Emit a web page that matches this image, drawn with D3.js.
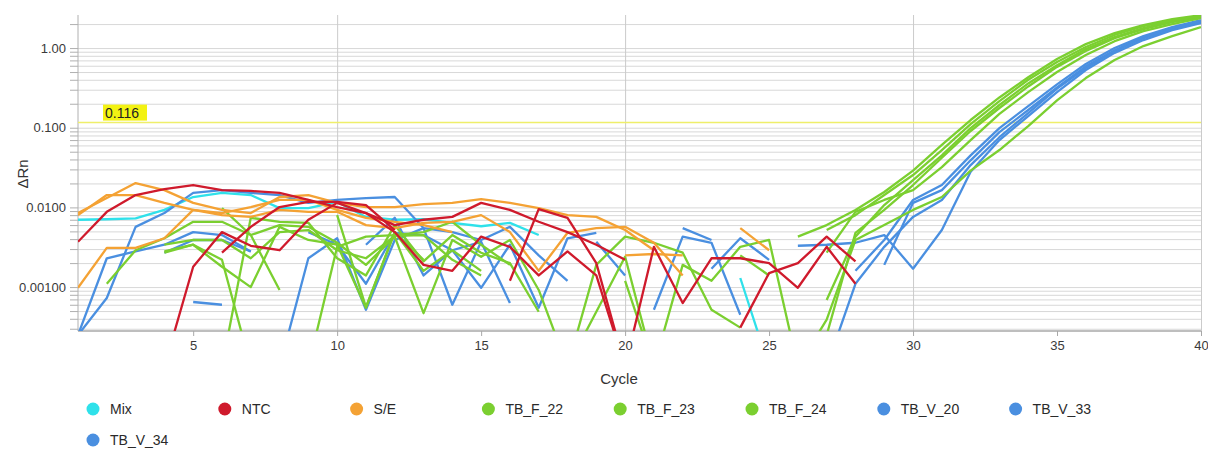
<!DOCTYPE html>
<html><head><meta charset="utf-8">
<script src="https://cdn.jsdelivr.net/npm/d3@7"></script>
<style>
body{margin:0;background:#fff;}
svg{display:block;font-family:"Liberation Sans",Arial,Helvetica,sans-serif;}
</style>
</head><body>
<svg id="chart" width="1208" height="451"></svg>
<script>
// ---------------- data ----------------
const cycles = d3.range(1, 41);
const sampleNames = ["Mix", "NTC", "S/E", "TB_F_22", "TB_F_23", "TB_F_24", "TB_V_20", "TB_V_33", "TB_V_34"];
const sampleColors = ["#2fe1ea", "#cf1a2c", "#f4a234", "#7bcf30", "#7bcf30", "#7bcf30", "#4a8fe0", "#4a8fe0", "#4a8fe0"];
const threshold = 0.116;
const xTickValues = [5, 10, 15, 20, 25, 30, 35, 40];
const xGridValues = [10, 20, 30, 40];
const yLabelValues = [0.001, 0.01, 0.1, 1];
const yLabelTexts = ["0.00100", "0.0100", "0.100", "1.00"];
const n = null;

// Mix
const mix_1 = [0.0070,0.0071,0.0073,0.0093,0.0135,0.0152,0.0143,0.0098,0.0098,0.0117,0.0076,0.0070,0.0071,0.0064,0.0058,0.0064,0.0045,n,n,n,n,n,n,0.0013,0.0001,n,n,n,n,n,n,n,n,n,n,n,n,n,n,n];
// NTC
const ntc_1 = [0.0037,0.0088,0.0143,0.0170,0.0191,0.0165,0.0161,0.0152,0.0124,0.0101,0.0085,0.0060,0.0070,0.0076,0.0114,0.0093,0.0066,0.0049,0.0034,0.0022,n,n,n,n,n,n,n,n,n,n,n,n,n,n,n,n,n,n,n,n];
const ntc_2 = [n,n,n,0.0001,0.0018,0.0049,0.0033,0.0029,0.0070,0.0114,0.0085,0.0049,0.0019,0.0016,0.0043,0.0032,0.0014,0.0028,0.0014,0.0001,0.0032,0.00063,0.0023,0.0023,0.0020,0.00098,0.0032,0.0011,n,n,n,n,n,n,n,n,n,n,n,n];
const ntc_3 = [n,n,n,n,n,0.0027,0.0057,0.0101,0.0117,0.0117,0.0107,0.0052,n,n,n,n,n,n,n,n,n,n,n,n,n,n,n,n,n,n,n,n,n,n,n,n,n,n,n,n];
const ntc_4 = [n,n,n,n,n,n,n,n,n,n,n,n,n,n,n,0.0012,0.0095,0.0074,0.0020,0.0001,n,n,n,0.00031,0.0015,0.0020,0.0043,0.0021,n,n,n,n,n,n,n,n,n,n,n,n];
// S/E
const se_1 = [0.0085,0.0131,0.0202,0.0165,0.0114,0.0093,0.0085,0.0135,0.0143,0.0114,0.0101,0.0101,0.0110,0.0114,0.0127,0.0114,0.0098,0.0080,0.0076,0.0052,0.0029,n,n,n,n,n,n,n,n,n,n,n,n,n,n,n,n,n,n,n];
const se_2 = [0.0080,0.0143,0.0143,0.0114,0.0093,0.0080,0.0076,0.0093,0.0088,0.0088,0.0060,0.0055,0.0064,0.0066,0.0080,0.0049,0.0016,0.0048,0.0055,0.0057,0.0036,0.0014,n,0.0055,0.0029,n,n,n,n,n,n,n,n,n,n,n,n,n,n,n];
const se_3 = [0.00098,0.0031,0.0031,0.0041,0.0093,0.0085,0.0101,0.0124,0.0124,0.0093,0.0074,0.0066,0.0060,0.0049,n,n,n,n,n,0.0025,0.0026,0.0025,n,n,n,n,n,n,n,n,n,n,n,n,n,n,n,n,n,n];
// TB_F
const tbf22_1 = [n,0.0011,0.0029,0.0041,0.0066,0.0066,0.0045,0.0060,0.0057,0.0036,0.0019,0.0043,0.00047,0.0039,0.0024,0.0039,0.00092,0.0001,0.0019,0.0043,0.0036,0.0027,0.00052,0.00031,n,0.0043,0.0060,0.0093,0.0156,0.029,0.061,0.125,0.24,0.43,0.73,1.12,1.54,1.94,2.31,2.59];
const tbf22_2 = [n,n,n,0.0028,0.0034,0.0018,0.0010,0.0057,0.0039,0.0034,0.00055,0.0049,0.0016,0.0029,0.0016,n,n,0.0001,0.00049,0.0024,0.0001,0.0019,0.0012,0.0032,0.0039,0.0001,0.00025,0.0048,0.0093,0.0191,0.042,0.091,0.177,0.33,0.58,0.92,1.33,1.73,2.12,2.45];
const tbf23_1 = [n,n,n,0.0027,0.0034,0.0022,0.0001,n,0.0001,0.0032,0.0043,0.0045,0.0049,0.0066,0.0034,0.0019,n,n,n,n,n,n,n,0.0025,0.0014,n,0.0027,0.0088,0.0124,0.0165,0.032,0.070,0.149,0.28,0.50,0.82,1.22,1.63,2.00,2.38];
const tbf23_2 = [n,n,n,n,n,0.0098,0.0045,0.00092,n,0.0080,0.00056,0.0049,0.0022,n,n,n,n,n,n,0.0012,0.0001,n,n,n,n,n,0.00069,0.0043,0.0107,0.022,0.045,0.099,0.193,0.36,0.61,0.97,1.37,1.78,2.18,2.52];
const tbf24_1 = [n,n,n,n,n,0.0001,0.0074,0.0066,0.0064,0.0023,0.0014,0.0060,0.0021,0.0045,0.0027,0.0020,0.00049,n,n,n,n,n,n,n,n,n,0.0052,0.0080,0.0143,0.0255,0.0525,0.111,0.216,0.40,0.67,1.03,1.46,1.89,2.24,2.52];
const tbf24_2 = [n,n,n,0.0034,0.0039,0.0039,0.0023,0.0049,0.0052,0.0029,0.0023,0.0044,0.0045,0.0022,0.0014,n,n,n,n,n,n,n,n,n,n,0.0001,0.00039,0.0039,0.0060,0.0093,0.0135,0.029,0.0525,0.105,0.22,0.42,0.71,1.06,1.41,1.83];
// TB_V
const tbv20_1 = [0.00025,0.00073,0.0057,0.0085,0.0152,0.0165,0.0152,0.0143,0.0114,0.0124,0.0131,0.0135,0.0055,0.0049,0.0039,0.0057,0.0025,0.0012,n,n,0.00052,0.0043,0.0036,0.00045,n,0.0033,0.0034,0.0036,0.0045,0.0017,0.0052,0.028,0.070,0.140,0.28,0.53,0.87,1.26,1.68,2.06];
const tbv20_2 = [0.00025,0.0023,0.0028,0.0034,0.0049,0.0045,0.0028,n,n,n,0.0034,0.0074,0.0014,0.0029,0.0037,n,n,n,0.0037,0.0014,n,n,0.0017,0.0041,0.0022,n,0.0001,0.0011,0.0032,0.0076,0.0124,0.034,0.076,0.153,0.31,0.56,0.92,1.33,1.73,2.12];
const tbv33_1 = [n,n,n,0.0027,0.0039,0.0039,0.0028,n,0.0049,0.0034,0.0011,0.0048,0.0045,0.0029,0.00098,0.0034,0.00055,0.0041,0.0048,n,n,0.0055,0.0039,n,n,n,n,n,0.0019,0.0114,0.0165,0.039,0.088,0.167,0.32,0.59,0.94,1.37,1.78,2.18];
const tbv34_1 = [n,n,n,n,0.00065,0.00060,n,0.0001,0.0023,0.0041,0.00052,0.0039,0.0055,0.00060,0.0037,0.00063,n,n,n,n,n,n,n,n,n,n,n,0.0016,0.0039,0.0124,0.0191,0.045,0.099,0.187,0.35,0.63,1.00,1.41,1.83,2.24];

const wells = [
  {sample: "Mix", values: mix_1},
  {sample: "TB_V_20", values: tbv20_1},
  {sample: "TB_V_20", values: tbv20_2},
  {sample: "TB_V_33", values: tbv33_1},
  {sample: "TB_V_34", values: tbv34_1},
  {sample: "TB_F_22", values: tbf22_1},
  {sample: "TB_F_22", values: tbf22_2},
  {sample: "TB_F_23", values: tbf23_1},
  {sample: "TB_F_23", values: tbf23_2},
  {sample: "TB_F_24", values: tbf24_1},
  {sample: "TB_F_24", values: tbf24_2},
  {sample: "S/E", values: se_1},
  {sample: "S/E", values: se_2},
  {sample: "S/E", values: se_3},
  {sample: "NTC", values: ntc_1},
  {sample: "NTC", values: ntc_2},
  {sample: "NTC", values: ntc_3},
  {sample: "NTC", values: ntc_4}
];

// ---------------- drawing ----------------
const svg = d3.select("#chart");
const L = 78, R = 1201, T = 15, B = 331;
const x = d3.scaleLinear().domain([1, 40]).range([L, R]);
const y = d3.scaleLog().domain([0.000281, 2.6]).range([B, T]);
const color = d3.scaleOrdinal().domain(sampleNames).range(sampleColors);

// all log tick values (1..9 per decade) inside the domain
const logTicks = [];
for (let e = -4; e <= 0; e++) for (let m = 1; m <= 9; m++) {
  const v = +(m * Math.pow(10, e)).toPrecision(3);
  if (v >= y.domain()[0] && v <= y.domain()[1]) logTicks.push(v);
}

// horizontal grid
svg.append("g").attr("transform", `translate(${L},0)`)
  .call(d3.axisLeft(y).tickValues(logTicks).tickSize(-(R - L)).tickFormat(""))
  .call(g => g.select(".domain").remove())
  .call(g => g.selectAll("line").attr("stroke", "#d8d8d8").attr("stroke-width", 1));

// vertical grid
svg.append("g").attr("transform", `translate(0,${B})`)
  .call(d3.axisBottom(x).tickValues(xGridValues).tickSize(-(B - T)).tickFormat(""))
  .call(g => g.select(".domain").remove())
  .call(g => g.selectAll("line").attr("stroke", "#cbcbcb").attr("stroke-width", 1));

// left axis with ticks and labels
const labelMap = new Map(yLabelValues.map((v, i) => [v, yLabelTexts[i]]));
svg.append("g").attr("transform", `translate(${L},0)`)
  .call(d3.axisLeft(y).tickValues(logTicks).tickSize(8).tickPadding(4)
    .tickFormat(v => labelMap.has(v) ? labelMap.get(v) : ""))
  .call(g => g.select(".domain").attr("stroke", "#b0b0b0").attr("d", `M0,${T}V${B}`))
  .call(g => g.selectAll("line").attr("stroke", "#b0b0b0"))
  .call(g => g.selectAll("text").attr("font-size", 13).attr("fill", "#3a3a3a")
    .attr("font-family", "Liberation Sans, Arial, sans-serif"));

// bottom axis
svg.append("g").attr("transform", `translate(0,${B})`)
  .call(d3.axisBottom(x).tickValues(xTickValues).tickSize(5).tickPadding(5).tickFormat(d3.format("d")))
  .call(g => g.select(".domain").attr("stroke", "#a8a8a8").attr("stroke-width", 1.5).attr("d", `M${L},0H${R}`))
  .call(g => g.selectAll("line").attr("stroke", "#a8a8a8"))
  .call(g => g.selectAll("text").attr("font-size", 13).attr("fill", "#3a3a3a")
    .attr("font-family", "Liberation Sans, Arial, sans-serif"));

// clip
svg.append("defs").append("clipPath").attr("id", "plotclip")
  .append("rect").attr("x", L).attr("y", T).attr("width", R - L).attr("height", B - T);

// threshold line
svg.append("line").attr("x1", L).attr("x2", R).attr("y1", y(threshold)).attr("y2", y(threshold))
  .attr("stroke", "#efef6a").attr("stroke-width", 1.5);
const thLabel = svg.append("g");
thLabel.append("rect").attr("x", 103).attr("y", y(threshold) - 18).attr("width", 44).attr("height", 16)
  .attr("fill", "#f3f213");
thLabel.append("text").attr("x", 105).attr("y", y(threshold) - 5).attr("font-size", 14)
  .attr("fill", "#222").text("0.116");

// curves
const line = d3.line()
  .defined(d => d.v !== null)
  .x(d => x(d.c))
  .y(d => y(d.v));

svg.append("g").attr("clip-path", "url(#plotclip)")
  .selectAll("path").data(wells).join("path")
  .attr("fill", "none")
  .attr("stroke", d => color(d.sample))
  .attr("stroke-width", 2.3)
  .attr("stroke-linejoin", "round")
  .attr("d", d => line(d.values.map((v, i) => ({c: cycles[i], v}))));

// axis titles
svg.append("text").attr("x", 619).attr("y", 384).attr("text-anchor", "middle")
  .attr("font-size", 15).attr("fill", "#333").text("Cycle");
svg.append("text").attr("transform", "translate(28,174) rotate(-90)").attr("text-anchor", "middle")
  .attr("font-size", 15).attr("fill", "#333").text("ΔRn");

// legend
const lg = svg.append("g").selectAll("g").data(sampleNames).join("g")
  .attr("transform", (d, i) => i < 8 ? `translate(${93 + i * 131.8},409)` : `translate(93,440)`);
lg.append("circle").attr("r", 6.5).attr("fill", d => color(d));
lg.append("text").attr("x", 17).attr("y", 5).attr("font-size", 14).attr("fill", "#2a2a2a").text(d => d);
</script>
</body></html>
